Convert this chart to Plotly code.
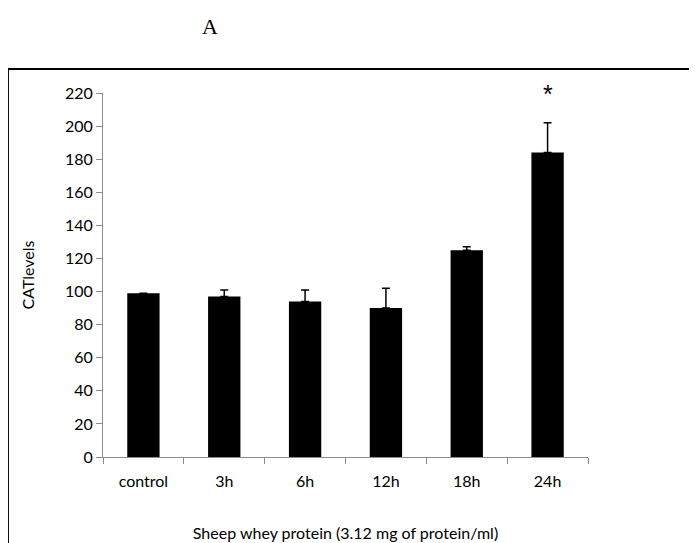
import plotly.graph_objects as go

groups = ['control', '3h', '6h', '12h', '18h', '24h']
cat_levels = [99, 97, 94, 90, 125, 184]
err_upper = [0, 4, 7, 12, 2, 18]
yticks = list(range(0, 221, 20))

fig = go.Figure()
fig.add_trace(go.Bar(
    x=groups, y=cat_levels, width=0.4,
    marker=dict(color='black', line=dict(width=0)),
    error_y=dict(type='data', symmetric=False, array=err_upper,
                 arrayminus=[0] * len(groups), color='black',
                 thickness=1.5, width=4),
))

fig.add_annotation(x='24h', xref='x', yref='paper', y=1.04, text='*',
                   showarrow=False,
                   font=dict(family='Liberation Sans', size=25, color='black'))
fig.add_annotation(xref='paper', yref='paper', x=0.2, y=1.222,
                   text='A', showarrow=False,
                   font=dict(family='Liberation Serif', size=22, color='black'))

# outer frame around the figure
fig.add_shape(type='rect', xref='paper', yref='paper',
              x0=-0.196, y0=-0.4, x1=1.4, y1=1.066,
              line=dict(color='black', width=2), fillcolor='rgba(0,0,0,0)')

axis_font = dict(family='Lato', size=16, color='black')
fig.update_layout(
    width=697, height=543,
    margin=dict(l=95, r=117, t=85, b=94),
    plot_bgcolor='white', paper_bgcolor='white',
    showlegend=False,
    font=axis_font,
    bargap=0.6,
)
fig.update_xaxes(
    showline=True, linecolor='#8c8c8c', linewidth=1,
    ticks='outside', tickson='boundaries', ticklen=6, tickcolor='#8c8c8c',
    tickfont=axis_font, showgrid=False, ticklabelstandoff=10,
    title=dict(text='Sheep whey protein (3.12 mg of protein/ml)',
               font=axis_font, standoff=38),
)
fig.update_yaxes(
    range=[0, 220], tickvals=yticks,
    showline=True, linecolor='#8c8c8c', linewidth=1,
    ticks='outside', ticklen=6, tickcolor='#8c8c8c',
    tickfont=axis_font, showgrid=False, zeroline=False,
    title=dict(text='CATlevels', font=axis_font, standoff=26),
)

fig.write_html("out.html")
